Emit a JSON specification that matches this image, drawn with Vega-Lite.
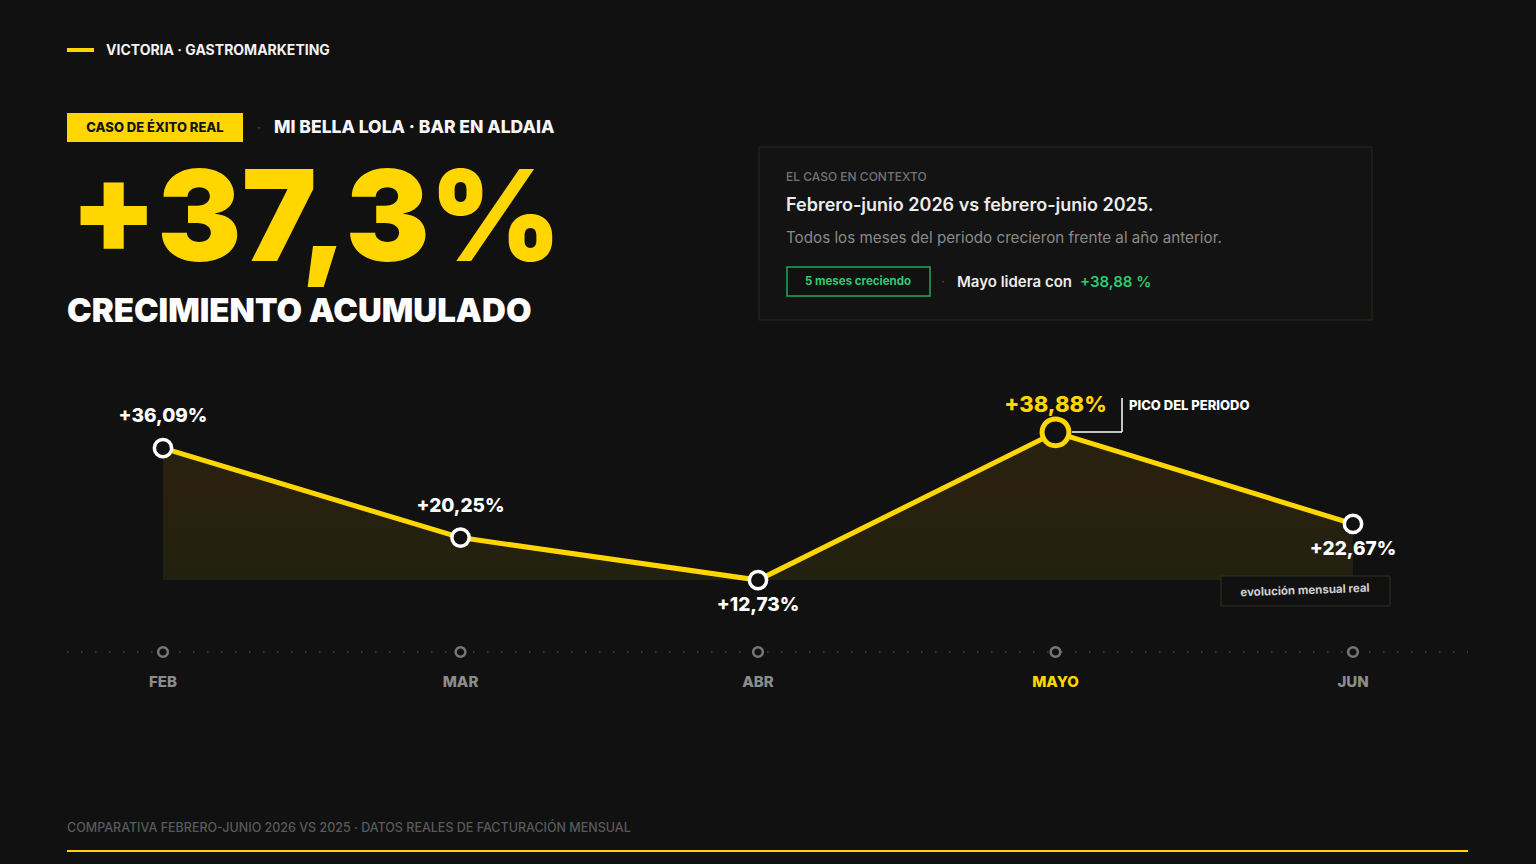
{
  "$schema": "https://vega.github.io/schema/vega-lite/v6.json",
  "width": 1536,
  "height": 864,
  "padding": 0,
  "autosize": {"type": "none"},
  "background": "#111111",
  "config": {"view": {"stroke": null}, "text": {"font": "Inter"}},
  "datasets": {
    "meses": [
      {"mes": "FEB", "crec": 36.09, "etiqueta": "+36,09%"},
      {"mes": "MAR", "crec": 20.25, "etiqueta": "+20,25%"},
      {"mes": "ABR", "crec": 12.73, "etiqueta": "+12,73%"},
      {"mes": "MAYO", "crec": 38.88, "etiqueta": "+38,88%"},
      {"mes": "JUN", "crec": 22.67, "etiqueta": "+22,67%"}
    ],
    "uno": [{}]
  },
  "data": {"name": "meses"},
  "encoding": {
    "x": {"field": "mes", "type": "ordinal", "sort": null, "scale": {"type": "point", "padding": 0, "domain": ["FEB", "MAR", "ABR", "MAYO", "JUN"], "range": [163, 1353]}, "axis": null},
    "y": {"field": "crec", "type": "quantitative", "scale": {"domain": [0, 100], "range": [652, 87]}, "axis": null}
  },
  "layer": [
    {"data": {"name": "uno"}, "mark": {"type": "rule", "stroke": "#FFD600", "strokeWidth": 4}, "encoding": {"x": {"value": 67}, "x2": {"value": 94}, "y": {"value": 50}}},
    {"data": {"name": "uno"}, "mark": {"type": "text", "text": "VICTORIA · GASTROMARKETING", "fontSize": 14, "fontWeight": 700, "color": "#f2f2f2", "align": "left", "baseline": "middle"}, "encoding": {"x": {"value": 106}, "y": {"value": 51}}},
    {"data": {"name": "uno"}, "mark": {"type": "rect", "fill": "#FFD600"}, "encoding": {"x": {"value": 67}, "x2": {"value": 243}, "y": {"value": 113}, "y2": {"value": 142}}},
    {"data": {"name": "uno"}, "mark": {"type": "text", "text": "CASO DE ÉXITO REAL", "fontSize": 13, "fontWeight": 800, "color": "#151515", "align": "center", "baseline": "middle"}, "encoding": {"x": {"value": 155}, "y": {"value": 128}}},
    {"data": {"name": "uno"}, "mark": {"type": "text", "text": "·", "fontSize": 12, "color": "#555555", "align": "center", "baseline": "middle"}, "encoding": {"x": {"value": 259}, "y": {"value": 128}}},
    {"data": {"name": "uno"}, "mark": {"type": "text", "text": "MI BELLA LOLA · BAR EN ALDAIA", "fontSize": 17.5, "fontWeight": 800, "color": "#f5f5f5", "align": "left", "baseline": "middle"}, "encoding": {"x": {"value": 274}, "y": {"value": 128}}},
    {"data": {"name": "uno"}, "mark": {"type": "text", "text": "+37,3%", "fontSize": 126, "fontWeight": 900, "color": "#FFD600", "align": "left", "baseline": "alphabetic"}, "encoding": {"x": {"value": 70}, "y": {"value": 261}}},
    {"data": {"name": "uno"}, "mark": {"type": "text", "text": "CRECIMIENTO ACUMULADO", "fontSize": 33, "fontWeight": 900, "color": "#ffffff", "align": "left", "baseline": "alphabetic"}, "encoding": {"x": {"value": 67}, "y": {"value": 322}}},
    {"data": {"name": "uno"}, "mark": {"type": "rect", "fill": "#131313", "stroke": "#2a2a18", "strokeWidth": 1}, "encoding": {"x": {"value": 759}, "x2": {"value": 1372}, "y": {"value": 147}, "y2": {"value": 320}}},
    {"data": {"name": "uno"}, "mark": {"type": "text", "text": "EL CASO EN CONTEXTO", "fontSize": 12, "fontWeight": 500, "color": "#737373", "align": "left", "baseline": "middle"}, "encoding": {"x": {"value": 786}, "y": {"value": 177}}},
    {"data": {"name": "uno"}, "mark": {"type": "text", "text": "Febrero-junio 2026 vs febrero-junio 2025.", "fontSize": 18, "fontWeight": 600, "color": "#ececec", "align": "left", "baseline": "middle"}, "encoding": {"x": {"value": 786}, "y": {"value": 206}}},
    {"data": {"name": "uno"}, "mark": {"type": "text", "text": "Todos los meses del periodo crecieron frente al año anterior.", "fontSize": 15.2, "fontWeight": 400, "color": "#8a8a8a", "align": "left", "baseline": "middle"}, "encoding": {"x": {"value": 786}, "y": {"value": 238}}},
    {"data": {"name": "uno"}, "mark": {"type": "rect", "fill": "#111111", "stroke": "#22a85a", "strokeWidth": 1.5}, "encoding": {"x": {"value": 787}, "x2": {"value": 930}, "y": {"value": 267}, "y2": {"value": 296}}},
    {"data": {"name": "uno"}, "mark": {"type": "text", "text": "5 meses creciendo", "fontSize": 11.5, "fontWeight": 700, "color": "#2ecc71", "align": "center", "baseline": "middle"}, "encoding": {"x": {"value": 858}, "y": {"value": 282}}},
    {"data": {"name": "uno"}, "mark": {"type": "text", "text": "·", "fontSize": 12, "color": "#555555", "align": "center", "baseline": "middle"}, "encoding": {"x": {"value": 943}, "y": {"value": 282}}},
    {"data": {"name": "uno"}, "mark": {"type": "text", "text": "Mayo lidera con", "fontSize": 15, "fontWeight": 600, "color": "#ececec", "align": "left", "baseline": "middle"}, "encoding": {"x": {"value": 957}, "y": {"value": 282}}},
    {"data": {"name": "uno"}, "mark": {"type": "text", "text": "+38,88 %", "fontSize": 15, "fontWeight": 600, "color": "#2ecc71", "align": "left", "baseline": "middle"}, "encoding": {"x": {"value": 1080}, "y": {"value": 282}}},
    {
      "mark": {"type": "area", "color": {"gradient": "linear", "x1": 0, "y1": 0, "x2": 0, "y2": 1, "stops": [{"offset": 0, "color": "#27220f"}, {"offset": 0.35, "color": "#2a200f"}, {"offset": 1, "color": "#21210f"}]}},
      "encoding": {"y2": {"datum": 12.73}}
    },
    {"mark": {"type": "line", "stroke": "#FFD600", "strokeWidth": 5}, "encoding": {}},
    {"data": {"name": "uno"}, "mark": {"type": "rule", "stroke": "#ffffff", "strokeWidth": 1.5}, "encoding": {"x": {"value": 1072}, "x2": {"value": 1122}, "y": {"value": 432}}},
    {"data": {"name": "uno"}, "mark": {"type": "rule", "stroke": "#ffffff", "strokeWidth": 1.5}, "encoding": {"x": {"value": 1122}, "y": {"value": 432}, "y2": {"value": 398}}},
    {"data": {"name": "uno"}, "mark": {"type": "text", "text": "PICO DEL PERIODO", "fontSize": 13, "fontWeight": 800, "color": "#ffffff", "align": "left", "baseline": "middle"}, "encoding": {"x": {"value": 1129}, "y": {"value": 406}}},
    {"data": {"name": "uno"}, "mark": {"type": "rule", "stroke": "#4a4a30", "strokeWidth": 1.5, "strokeDash": [1.5, 12.5]}, "encoding": {"x": {"value": 67}, "x2": {"value": 1468}, "y": {"value": 652}}},
    {
      "transform": [{"filter": "datum.mes !== 'MAYO'"}],
      "mark": {"type": "point", "shape": "circle", "filled": true, "fill": "#111111", "stroke": "#ffffff", "strokeWidth": 3.5, "size": 300, "opacity": 1}
    },
    {
      "transform": [{"filter": "datum.mes === 'MAYO'"}],
      "mark": {"type": "point", "shape": "circle", "filled": true, "fill": "#111111", "stroke": "#FFD600", "strokeWidth": 5, "size": 720, "opacity": 1}
    },
    {
      "transform": [{"filter": "datum.mes === 'FEB' || datum.mes === 'MAR'"}],
      "mark": {"type": "text", "fontSize": 19, "fontWeight": 800, "color": "#ffffff", "dy": -32, "baseline": "middle"},
      "encoding": {"text": {"field": "etiqueta"}}
    },
    {
      "transform": [{"filter": "datum.mes === 'ABR' || datum.mes === 'JUN'"}],
      "mark": {"type": "text", "fontSize": 19, "fontWeight": 800, "color": "#ffffff", "dy": 25, "baseline": "middle"},
      "encoding": {"text": {"field": "etiqueta"}}
    },
    {
      "transform": [{"filter": "datum.mes === 'MAYO'"}],
      "mark": {"type": "text", "fontSize": 22, "fontWeight": 800, "color": "#FFD600", "dy": -27, "baseline": "middle"},
      "encoding": {"text": {"field": "etiqueta"}}
    },
    {"data": {"name": "uno"}, "mark": {"type": "rect", "fill": "#111111", "stroke": "#33331f", "strokeWidth": 1}, "encoding": {"x": {"value": 1221}, "x2": {"value": 1390}, "y": {"value": 576}, "y2": {"value": 606}}},
    {"data": {"name": "uno"}, "mark": {"type": "text", "text": "evolución mensual real", "fontSize": 11.5, "fontWeight": 700, "color": "#cfcfcf", "align": "center", "baseline": "middle", "angle": -2}, "encoding": {"x": {"value": 1305}, "y": {"value": 591}}},
    {
      "mark": {"type": "point", "shape": "circle", "filled": true, "fill": "#111111", "stroke": "#777777", "strokeWidth": 2.5, "size": 95, "opacity": 1},
      "encoding": {"y": {"datum": 0}}
    },
    {
      "mark": {"type": "text", "fontSize": 15, "fontWeight": 800, "dy": 30, "baseline": "middle"},
      "encoding": {
        "y": {"datum": 0},
        "text": {"field": "mes"},
        "color": {"condition": {"test": "datum.mes === 'MAYO'", "value": "#FFD600"}, "value": "#8c8c8c"}
      }
    },
    {"data": {"name": "uno"}, "mark": {"type": "text", "text": "COMPARATIVA FEBRERO-JUNIO 2026 VS 2025 · DATOS REALES DE FACTURACIÓN MENSUAL", "fontSize": 12.5, "fontWeight": 500, "color": "#5a5a5a", "align": "left", "baseline": "middle"}, "encoding": {"x": {"value": 67}, "y": {"value": 828}}},
    {"data": {"name": "uno"}, "mark": {"type": "rule", "stroke": "#FFD600", "strokeWidth": 2}, "encoding": {"x": {"value": 67}, "x2": {"value": 1468}, "y": {"value": 851}}}
  ]
}
